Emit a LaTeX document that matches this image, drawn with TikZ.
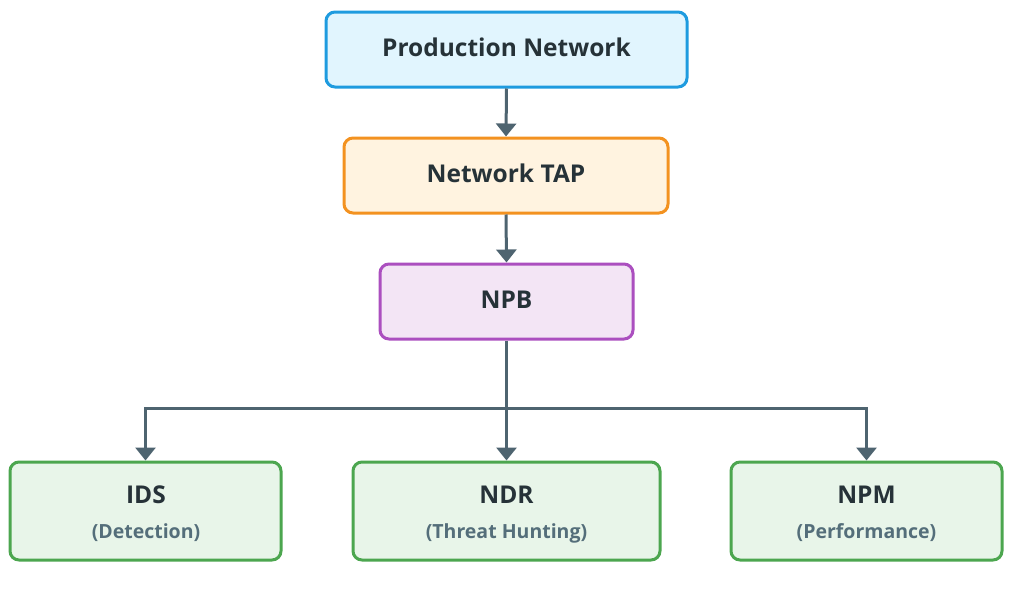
\documentclass[tikz,border=0pt]{standalone}
\usepackage{fontspec}
\setmainfont{Open Sans}
\usetikzlibrary{arrows.meta}
\definecolor{txt}{HTML}{263238}
\definecolor{sub}{HTML}{546E7A}
\definecolor{conn}{HTML}{4E6470}
\definecolor{bluef}{HTML}{E1F5FE}
\definecolor{blued}{HTML}{1E9BDF}
\definecolor{orangef}{HTML}{FFF3E0}
\definecolor{oranged}{HTML}{F39220}
\definecolor{purplef}{HTML}{F3E5F5}
\definecolor{purpled}{HTML}{AB4FBF}
\definecolor{greenf}{HTML}{E8F5E9}
\definecolor{greend}{HTML}{4CA64F}
\tikzset{
  box/.style={draw, line width=3pt, rounded corners=9pt, align=center, text=txt, font=\fontsize{24.5}{28}\selectfont\bfseries, inner sep=0pt},
  bluebox/.style={box, fill=bluef, draw=blued},
  orangebox/.style={box, fill=orangef, draw=oranged},
  purplebox/.style={box, fill=purplef, draw=purpled},
  greenbox/.style={box, fill=greenf, draw=greend},
  link/.style={draw=conn, line width=3pt, -{Triangle[width=20pt,length=13pt]}},
  ttl/.style={text=txt, font=\fontsize{24.5}{28}\selectfont\bfseries},
  subt/.style={font=\fontsize{19.5}{23}\selectfont\bfseries, text=sub},
}
\begin{document}
\begin{tikzpicture}[x=1pt,y=-1pt]
\useasboundingbox (0,0) rectangle (1024,605);
\node[bluebox, minimum width=361pt, minimum height=75pt] (prod) at (506.5,49.5) {};
\node[orangebox, minimum width=324pt, minimum height=75pt] (tap) at (506,175.5) {};
\node[purplebox, minimum width=253pt, minimum height=75pt] (npb) at (506.5,301.5) {};
\node[ttl] (prodt) at (506.5,47.5) {Production Network};
\node[ttl] (tapt) at (506,173.5) {Network TAP};
\node[ttl] (npbt) at (506.5,299.5) {NPB};
\node[greenbox, minimum width=271pt, minimum height=98pt] (ids) at (145.5,511) {};
\node[greenbox, minimum width=307pt, minimum height=98pt] (ndr) at (506.5,511) {};
\node[greenbox, minimum width=271pt, minimum height=98pt] (npm) at (866.5,511) {};
\node[ttl] (idst) at (146,495) {IDS};
\node[subt] (idss) at (146,533) {(Detection)};
\node[ttl] (ndrt) at (506.5,495) {NDR};
\node[subt] (ndrs) at (506.5,533) {(Threat Hunting)};
\node[ttl] (npmt) at (866.5,495) {NPM};
\node[subt] (npms) at (866.5,533) {(Performance)};
\coordinate (bus) at (506.5,408);
\draw[link] (prod.south) -- (tap.north);
\draw[link] (tap.south) -- (npb.north);
\draw[link] (npb.south) -- (ndr.north);
\draw[link] (bus) -| (ids.north);
\draw[link] (bus) -| (npm.north);
\end{tikzpicture}
\end{document}
